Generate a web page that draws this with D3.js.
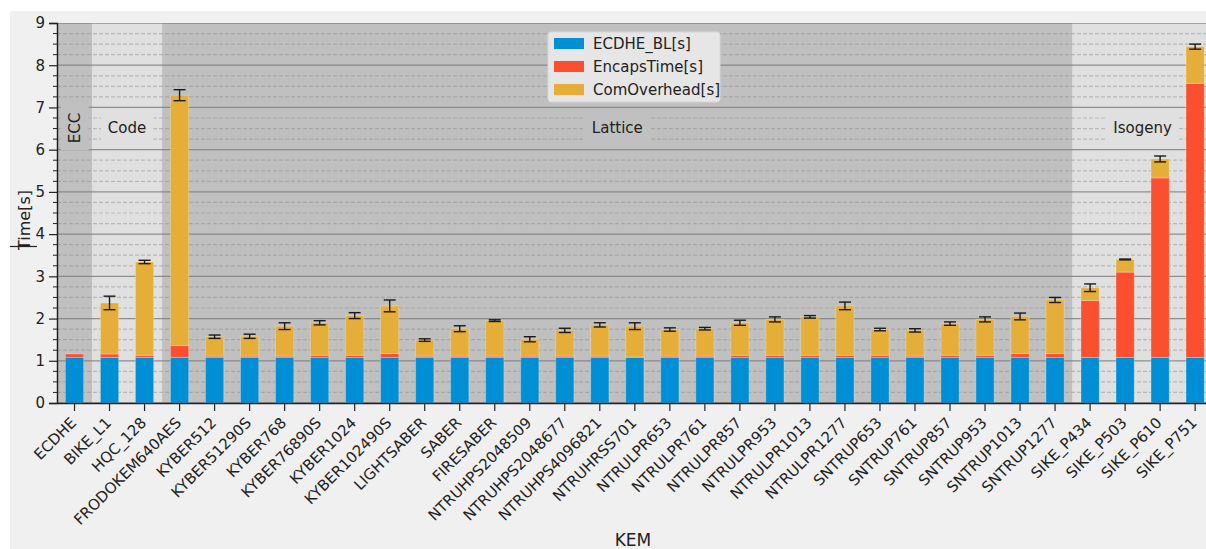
<!DOCTYPE html>
<html>
<head>
<meta charset="utf-8">
<script src="https://cdn.jsdelivr.net/npm/d3@7"></script>
<style>
  body { margin: 0; background: #fff; }
  text { font-family: "DejaVu Sans", sans-serif; fill: #222; }
</style>
</head>
<body>
<div id="viz_container"></div>
<script>
// categories (KEMs)
const kems = ["ECDHE", "BIKE_L1", "HQC_128", "FRODOKEM640AES", "KYBER512", "KYBER51290S",
  "KYBER768", "KYBER76890S", "KYBER1024", "KYBER102490S", "LIGHTSABER", "SABER", "FIRESABER",
  "NTRUHPS2048509", "NTRUHPS2048677", "NTRUHPS4096821", "NTRUHRSS701", "NTRULPR653",
  "NTRULPR761", "NTRULPR857", "NTRULPR953", "NTRULPR1013", "NTRULPR1277", "SNTRUP653",
  "SNTRUP761", "SNTRUP857", "SNTRUP953", "SNTRUP1013", "SNTRUP1277", "SIKE_P434",
  "SIKE_P503", "SIKE_P610", "SIKE_P751"];

// series values (seconds)
const ecdheBL = [1.08, 1.08, 1.08, 1.08, 1.08, 1.08, 1.08, 1.08, 1.08, 1.08, 1.08, 1.08, 1.08,
  1.08, 1.08, 1.08, 1.08, 1.08, 1.08, 1.08, 1.08, 1.08, 1.08, 1.08, 1.08, 1.08, 1.08, 1.08,
  1.08, 1.08, 1.08, 1.08, 1.08];
const encapsTime = [0.08, 0.08, 0.05, 0.28, 0.03, 0.03, 0.03, 0.05, 0.05, 0.09, 0.03, 0.03, 0.03,
  0.03, 0.03, 0.03, 0.01, 0.03, 0.03, 0.05, 0.05, 0.05, 0.05, 0.05, 0.03, 0.05, 0.05, 0.09,
  0.09, 1.35, 2.02, 4.25, 6.49];
const comOverhead = [0, 1.21, 2.21, 5.93, 0.46, 0.47, 0.71, 0.77, 0.94, 1.13, 0.38, 0.65, 0.84,
  0.40, 0.61, 0.74, 0.73, 0.63, 0.65, 0.77, 0.85, 0.91, 1.17, 0.61, 0.61, 0.75, 0.85, 0.88,
  1.27, 0.30, 0.30, 0.45, 0.87];
const errTotal = [0, 0.16, 0.04, 0.13, 0.04, 0.05, 0.08, 0.05, 0.07, 0.14, 0.03, 0.07, 0.02,
  0.06, 0.05, 0.05, 0.08, 0.04, 0.03, 0.06, 0.06, 0.03, 0.09, 0.03, 0.04, 0.04, 0.06, 0.08,
  0.06, 0.09, 0.01, 0.07, 0.06];

// series names and family groups
const seriesKeys = ["ECDHE_BL[s]", "EncapsTime[s]", "ComOverhead[s]"];
const families = [
  {name: "ECC", first: 0, last: 0, dark: true, vertical: true},
  {name: "Code", first: 1, last: 2, dark: false},
  {name: "Lattice", first: 3, last: 28, dark: true},
  {name: "Isogeny", first: 29, last: 32, dark: false}
];
const yTicks = [0, 1, 2, 3, 4, 5, 6, 7, 8, 9];

const W = 1206, H = 549;
const margin = {left: 57, top: 23, bottom: 403};
const plotRight = 57 + 33 * 35.02;

const svg = d3.select("#viz_container").append("svg")
  .attr("width", W).attr("height", H);

// figure background
svg.append("rect").attr("x", 10).attr("y", 11).attr("width", W - 10).attr("height", H - 11)
  .attr("fill", "#f0f0f0");

svg.append("clipPath").attr("id", "plotclip")
  .append("rect").attr("x", margin.left).attr("y", margin.top)
  .attr("width", W - margin.left).attr("height", margin.bottom - margin.top);

const x = d3.scaleBand().domain(kems).range([margin.left, plotRight]).padding(0);
const y = d3.scaleLinear().domain([0, 9]).range([margin.bottom, margin.top]);
const color = d3.scaleOrdinal().domain(seriesKeys).range(["#008fd5", "#fc4f30", "#e5ae38"]);

const plot = svg.append("g").attr("clip-path", "url(#plotclip)");

// family background spans
plot.selectAll("rect.span").data(families).join("rect")
  .attr("class", "span")
  .attr("x", d => x(kems[d.first]))
  .attr("width", d => x(kems[d.last]) + x.bandwidth() - x(kems[d.first]))
  .attr("y", margin.top).attr("height", margin.bottom - margin.top)
  .attr("fill", d => d.dark ? "#c0c0c0" : "#e0e0e0");

// grid lines
const minor = d3.range(0, 9.01, 0.25).filter(v => Math.abs(v - Math.round(v)) > 0.01);
plot.selectAll("line.minor").data(minor).join("line")
  .attr("x1", margin.left).attr("x2", W)
  .attr("y1", d => y(d)).attr("y2", d => y(d))
  .attr("stroke", "#8a8a8a").attr("stroke-opacity", 0.45)
  .attr("stroke-width", 1.2).attr("stroke-dasharray", "4,2");
plot.selectAll("line.major").data(yTicks).join("line")
  .attr("x1", margin.left).attr("x2", W)
  .attr("y1", d => y(d)).attr("y2", d => y(d))
  .attr("stroke", "#7a7a7a").attr("stroke-opacity", 0.8).attr("stroke-width", 1.3);

// family labels with a background box
families.forEach(f => {
  const cx = (x(kems[f.first]) + x(kems[f.last]) + x.bandwidth()) / 2;
  const cy = 128;
  const g = plot.append("g").attr("transform", `translate(${cx},${cy})` + (f.vertical ? " rotate(-90)" : ""));
  const t = g.append("text").attr("text-anchor", "middle").attr("dy", "0.35em")
    .style("font-size", "15px").text(f.name);
  const bb = t.node().getBBox();
  g.insert("rect", "text")
    .attr("x", bb.x - 7).attr("y", bb.y - 5)
    .attr("width", bb.width + 14).attr("height", bb.height + 10)
    .attr("fill", f.dark ? "#c0c0c0" : "#e0e0e0");
});

// stacked bars
const rows = kems.map((k, i) => ({
  kem: k,
  "ECDHE_BL[s]": ecdheBL[i],
  "EncapsTime[s]": encapsTime[i],
  "ComOverhead[s]": comOverhead[i],
  err: errTotal[i]
}));
const stacked = d3.stack().keys(seriesKeys)(rows);
const barW = x.bandwidth() * 0.52;
const barOff = (x.bandwidth() - barW) / 2;

plot.append("g").selectAll("g").data(stacked).join("g")
  .attr("fill", d => color(d.key))
  .selectAll("rect").data(d => d).join("rect")
    .attr("x", d => x(d.data.kem) + barOff)
    .attr("y", d => y(d[1]))
    .attr("width", barW)
    .attr("height", d => Math.max(0, y(d[0]) - y(d[1])))
    .attr("stroke", "#ffffff").attr("stroke-opacity", 0.25).attr("stroke-width", 1);

// error bars on totals
const errG = plot.append("g").attr("stroke", "#1a1a1a").attr("stroke-width", 1.4);
rows.filter(d => d.err > 0).forEach(d => {
  const total = d["ECDHE_BL[s]"] + d["EncapsTime[s]"] + d["ComOverhead[s]"];
  const cx = x(d.kem) + x.bandwidth() / 2;
  errG.append("line").attr("x1", cx).attr("x2", cx)
    .attr("y1", y(total - d.err)).attr("y2", y(total + d.err));
  [total - d.err, total + d.err].forEach(v => {
    errG.append("line").attr("x1", cx - 6).attr("x2", cx + 6)
      .attr("y1", y(v)).attr("y2", y(v));
  });
});

// y axis
const yAxis = svg.append("g").attr("transform", `translate(${margin.left},0)`)
  .call(d3.axisLeft(y).tickValues(yTicks).tickSize(8).tickPadding(4).tickFormat(d3.format("d")));
yAxis.select(".domain").attr("stroke", "#222").attr("stroke-width", 1.5);
yAxis.selectAll(".tick line").attr("stroke", "#222").attr("stroke-width", 1.2);
yAxis.selectAll(".tick text").style("font-size", "15px").style("font-family", "DejaVu Sans").attr("fill", "#222");
svg.append("g").selectAll("line").data(minor).join("line")
  .attr("x1", margin.left - 4).attr("x2", margin.left)
  .attr("y1", d => y(d)).attr("y2", d => y(d))
  .attr("stroke", "#222").attr("stroke-width", 1);

// x axis
const xAxis = svg.append("g").attr("transform", `translate(0,${margin.bottom})`)
  .call(d3.axisBottom(x).tickSize(8).tickSizeOuter(0));
xAxis.select(".domain").attr("stroke", "#222").attr("stroke-width", 1.5);
xAxis.selectAll(".tick line").attr("stroke", "#222").attr("stroke-width", 1.2);
xAxis.selectAll(".tick text")
  .attr("text-anchor", "end")
  .attr("x", 0).attr("y", 0).attr("dy", "0.35em")
  .attr("transform", "translate(-1,17) rotate(-45)")
  .style("font-size", "15px").style("font-family", "DejaVu Sans").attr("fill", "#222");

// axis titles
svg.append("text").attr("x", 633).attr("y", 546).attr("text-anchor", "middle")
  .style("font-size", "17px").text("KEM");
svg.append("text").attr("transform", "translate(30,220) rotate(-90)").attr("text-anchor", "middle")
  .style("font-size", "16px").text("Time[s]");
svg.append("line").attr("x1", 10).attr("x2", 37).attr("y1", 246.5).attr("y2", 246.5)
  .attr("stroke", "#222").attr("stroke-width", 1.2);

// legend
const legend = svg.append("g").attr("transform", "translate(548,32)");
legend.append("rect").attr("width", 172).attr("height", 70).attr("rx", 3)
  .attr("fill", "#e6e6e6").attr("stroke", "#d6d6d6");
seriesKeys.forEach((k, i) => {
  legend.append("rect").attr("x", 6).attr("y", 6 + i * 23).attr("width", 30).attr("height", 11)
    .attr("fill", color(k));
  legend.append("text").attr("x", 45).attr("y", 11.5 + i * 23).attr("dy", "0.35em")
    .style("font-size", "15px").text(k);
});
</script>
</body>
</html>
